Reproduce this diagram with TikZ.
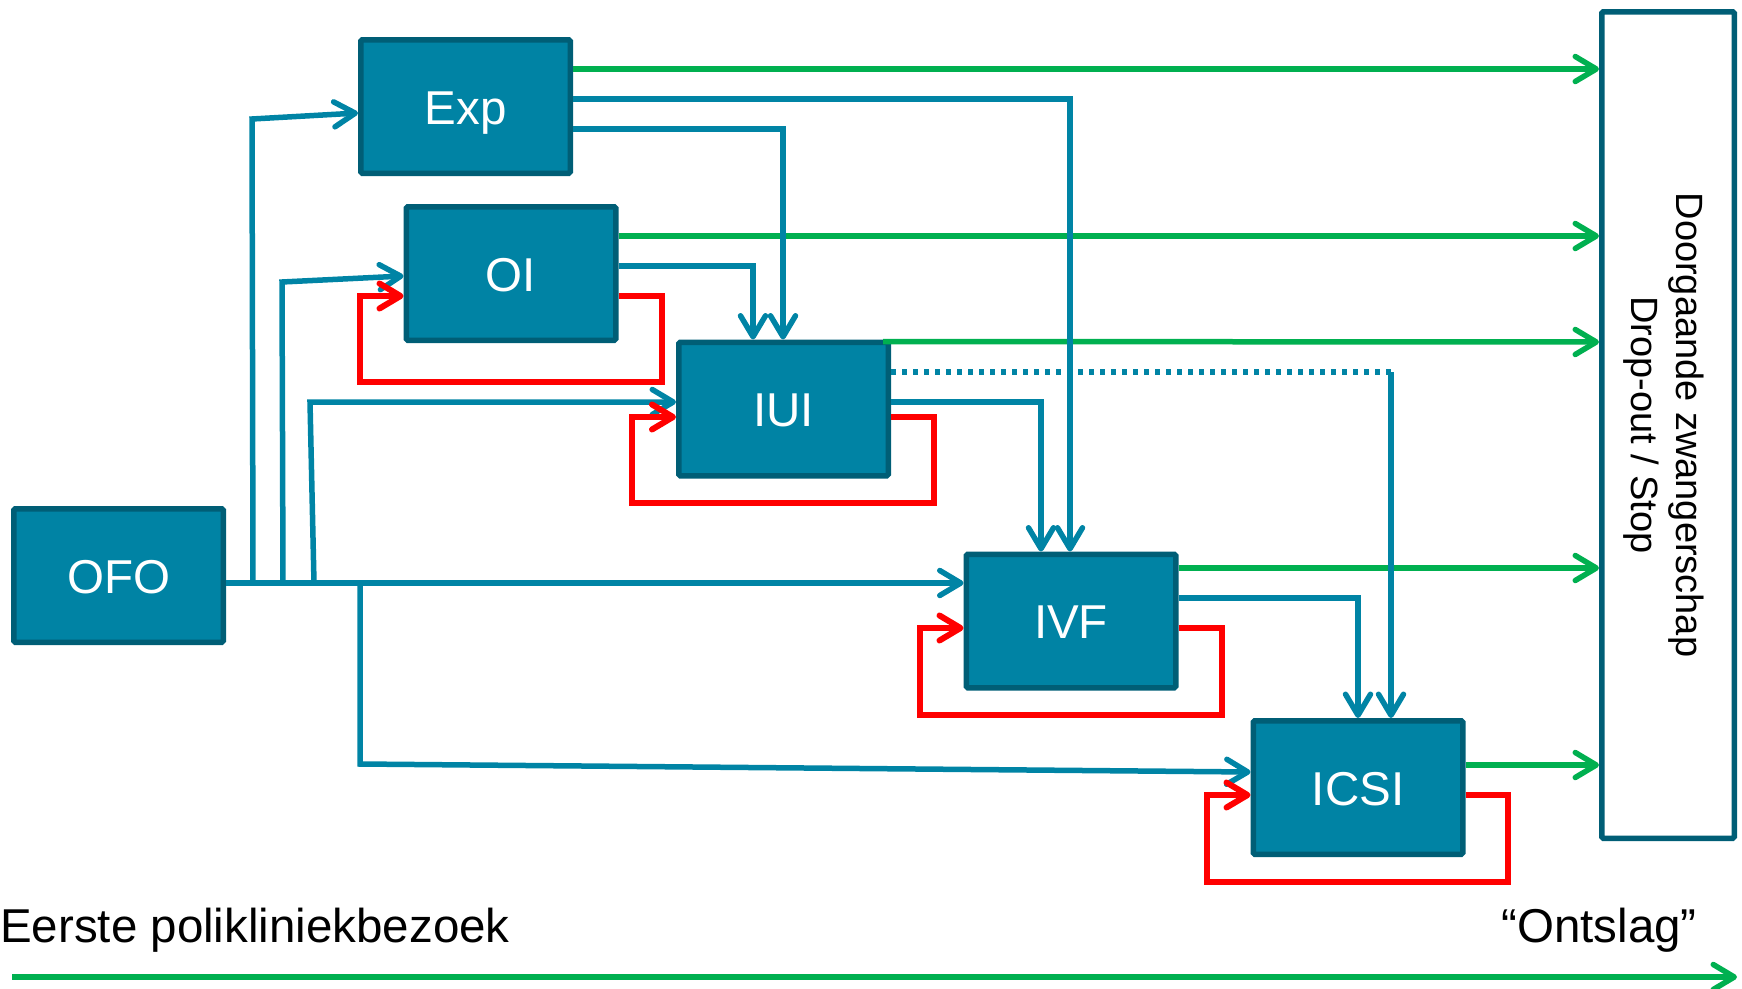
\documentclass[tikz,border=0pt]{standalone}
\usepackage{fontspec}
\setmainfont{Liberation Sans}
\usetikzlibrary{arrows.meta,calc}
\definecolor{boxfill}{RGB}{0,131,164}
\definecolor{boxline}{RGB}{0,94,118}
\definecolor{flowblue}{RGB}{0,132,165}
\definecolor{flowgreen}{RGB}{0,176,80}
\definecolor{flowred}{RGB}{255,0,0}
\begin{document}
\begin{tikzpicture}[x=1pt,y=-1pt,
  proc/.style={draw=boxline, fill=boxfill, line width=5.5pt, rounded corners=1.5pt,
    minimum width=209.5pt, minimum height=133.5pt, inner sep=0pt, text=white,
    text height=35pt, text depth=0pt, font=\fontsize{47.5}{57}\selectfont},
  tip/.style={-{Straight Barb[length=21pt,width=25pt,round]}},
  blueflow/.style={draw=flowblue, line width=5.5pt},
  greenflow/.style={draw=flowgreen, line width=5.5pt, tip},
  redflow/.style={draw=flowred, line width=6pt, tip},
  lbl/.style={inner sep=0pt, font=\fontsize{47.5}{57}\selectfont}
]
\useasboundingbox (0,0) rectangle (1742,988);

% boxes
\node[proc] (exp) at (465.5,106.5) {Exp};
\node[proc] (oi) at (511,273.5) {OI};
\node[proc] (iui) at (783.5,409) {IUI};
\node[proc] (ofo) at (118.5,575.5) {OFO};
\node[proc] (ivf) at (1071,621) {IVF};
\node[proc] (icsi) at (1358,787.5) {ICSI};
\node[draw=boxline, fill=white, line width=5.5pt, rounded corners=1.5pt,
  minimum width=132.5pt, minimum height=826.5pt, inner sep=0pt] (out) at (1668,425) {};
\node[rotate=-90, align=center, inner sep=0pt,
  font=\fontsize{38}{45}\selectfont] (outtext) at (1664,425)
  {Doorgaande zwangerschap\\Drop-out / Stop};

% green outputs
\draw[greenflow] (exp.east |- 0,69) -- (out.west |- 0,69);
\draw[greenflow] (oi.east |- 0,236) -- (out.west |- 0,236);
\draw[greenflow] ($(iui.north east)+(-8,2)$) -- (out.west |- 0,342);
\draw[greenflow] (ivf.east |- 0,568) -- (out.west |- 0,568);
\draw[greenflow] (icsi.east |- 0,765) -- (out.west |- 0,765);

% OFO trunk and branches
\coordinate (b1) at (253,583);
\coordinate (b2) at (283,583);
\coordinate (b3) at (314,583);
\coordinate (b4) at (360,583);
\draw[blueflow, tip] (ofo.east |- 0,583) -- (ivf.west |- 0,583);
\draw[blueflow, tip] (b1) -- (252,119) -- (exp.west |- 0,113);
\draw[blueflow, tip] (b2) -- (282,282) -- (oi.west |- 0,276);
\draw[blueflow, tip] (b3) -- (310,402) -- (iui.west |- 0,402);
\draw[blueflow, tip] (b4) -- (360,764) -- (icsi.west |- 0,772);

% Exp outputs
\draw[blueflow, tip] (exp.east |- 0,99) -- (1070,99) -- (ivf.north -| 1070,0);
\draw[blueflow, tip] (exp.east |- 0,129) -- (783,129) -- (iui.north -| 783,0);

% OI outputs
\draw[blueflow, tip] (oi.east |- 0,266) -- (753,266) -- (iui.north -| 753,0);
\draw[redflow] (oi.east |- 0,296) -- (662,296) -- (662,382) -- (360,382) -- (360,296) -- (oi.west |- 0,296);

% IUI outputs
\coordinate (dc) at (1391,372);
\draw[blueflow, dash pattern=on 5pt off 6pt] (iui.east |- 0,372) -- (dc);
\draw[blueflow, tip] (dc) -- (icsi.north -| dc);
\draw[blueflow, tip] (iui.east |- 0,402) -- (1041,402) -- (ivf.north -| 1041,0);
\draw[redflow] (iui.east |- 0,417) -- (934,417) -- (934,503) -- (632,503) -- (632,417) -- (iui.west |- 0,417);

% IVF outputs
\draw[blueflow, tip] (ivf.east |- 0,598) -- (1358,598) -- (icsi.north -| 1358,0);
\draw[redflow] (ivf.east |- 0,628) -- (1222,628) -- (1222,715) -- (920,715) -- (920,628) -- (ivf.west |- 0,628);

% ICSI outputs
\draw[redflow] (icsi.east |- 0,795) -- (1508,795) -- (1508,882) -- (1207,882) -- (1207,795) -- (icsi.west |- 0,795);

% timeline
\node[lbl, anchor=base west] (first) at (0,942) {Eerste polikliniekbezoek};
\node[lbl, anchor=base east] (last) at (1697,942) {“Ontslag”};
\coordinate (tl0) at (12,977);
\coordinate (tl1) at (1737,977);
\draw[greenflow] (tl0) -- (tl1);
\end{tikzpicture}
\end{document}
